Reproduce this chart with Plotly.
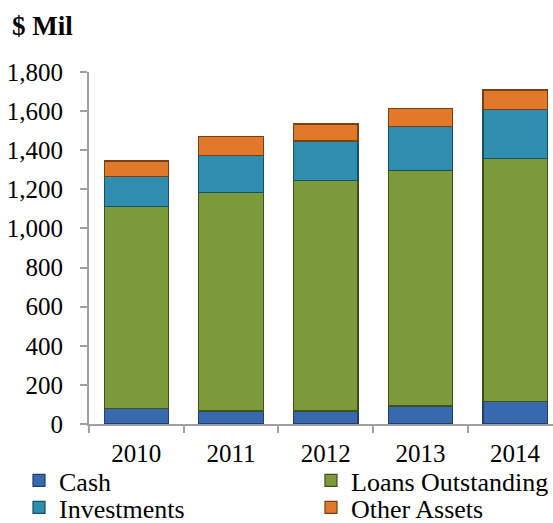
import plotly.graph_objects as go

years = ["2010", "2011", "2012", "2013", "2014"]
cash = [80, 66, 66, 92, 114]
loans = [1033, 1119, 1181, 1203, 1244]
investments = [151, 190, 200, 225, 251]
other_assets = [81, 94, 87, 94, 99]

# name, values, face colour, edge colour, legend id, legend x (px), legend top (px)
series = [
    ("Cash", cash, "#3868AE", "#1F3F6E", "legend", 19, 457),
    ("Loans Outstanding", loans, "#7C9A3A", "#3E5219", "legend2", 311, 457),
    ("Investments", investments, "#2F8DAD", "#17506A", "legend3", 19, 484),
    ("Other Assets", other_assets, "#E0792A", "#7A3F12", "legend4", 311, 484),
]

W, H = 553, 523
font_family = "Liberation Serif, Times New Roman, serif"

fig = go.Figure()
legend_layouts = {}
for name, vals, col, edge, lg, lx, ly in series:
    fig.add_trace(go.Bar(
        x=years, y=vals, name=name, legend=lg,
        marker=dict(color=col, line=dict(color=edge, width=1.2)),
    ))
    legend_layouts[lg] = dict(
        orientation="h", xref="container", yref="container",
        x=lx / W, xanchor="left", y=1 - ly / H, yanchor="top",
        font=dict(family=font_family, size=26, color="black"),
        bgcolor="rgba(0,0,0,0)", itemclick=False, itemdoubleclick=False,
    )

fig.update_layout(
    width=W, height=H,
    barmode="stack", bargap=0.32,
    paper_bgcolor="white", plot_bgcolor="white",
    margin=dict(l=89, r=0, t=72, b=99),
    font=dict(family=font_family, size=25, color="black"),
    title=dict(text="<b>$ Mil</b>", x=12 / W, xanchor="left", xref="container",
               y=1 - 26 / H, yanchor="middle", yref="container",
               font=dict(family=font_family, size=27, color="black")),
    xaxis=dict(range=[-0.5, 4.4], showline=True, linecolor="#A0A0A0", linewidth=2,
               ticks="outside", ticklen=7, tickcolor="#A0A0A0", tickwidth=2,
               tickson="boundaries", showgrid=False, fixedrange=True,
               ticklabelstandoff=6, tickangle=0, automargin=False),
    yaxis=dict(range=[0, 1800], dtick=200, tickformat=",", showline=True,
               linecolor="#A0A0A0", linewidth=2, ticks="outside", ticklen=7,
               tickcolor="#A0A0A0", tickwidth=2, showgrid=False, zeroline=False,
               ticklabelstandoff=12, fixedrange=True, automargin=False),
    showlegend=True,
    **legend_layouts,
)

fig.write_html("out.html", config={"displayModeBar": False},
               post_script="document.body.style.margin='0px';")
